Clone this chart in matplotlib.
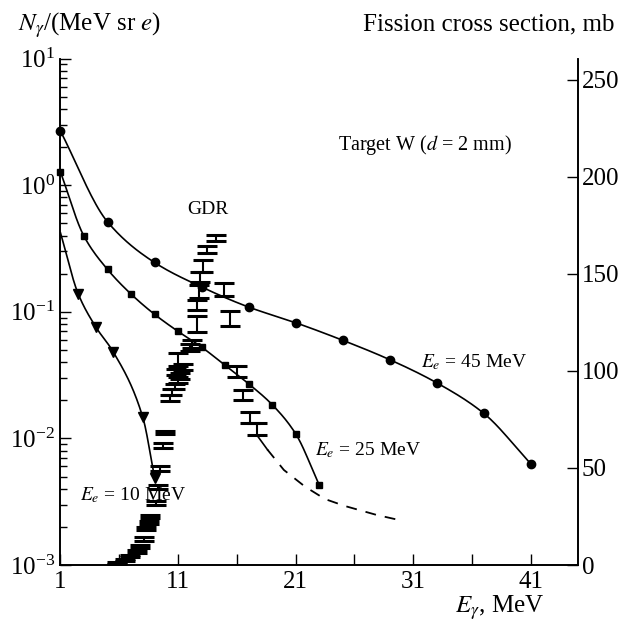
import numpy as np
import matplotlib
matplotlib.use("Agg")
import matplotlib.pyplot as plt
from matplotlib.ticker import FixedLocator, NullFormatter

plt.rcParams['font.family'] = ['Liberation Serif', 'DejaVu Serif']
plt.rcParams['mathtext.fontset'] = 'stix'

# --- DATA ---
# photon spectra, N_gamma / (MeV sr e), left log axis
e45_x = [1, 5, 9, 13, 17, 21, 25, 29, 33, 37, 41]
e45_y = [2.67, 0.513, 0.245, 0.157, 0.109, 0.082, 0.0596, 0.0419, 0.0275, 0.0158, 0.0063]

e25_x = [1, 3, 5, 7, 9, 11, 13, 15, 17, 19, 21, 23]
e25_y = [1.27, 0.395, 0.216, 0.138, 0.0955, 0.070, 0.0527, 0.0377, 0.027, 0.0185, 0.0109, 0.0043]

e10_x = [1, 2.5, 4, 5.5, 8, 9]
e10_y = [0.42, 0.139, 0.076, 0.048, 0.0147, 0.0049]

# fission cross section, mb, right axis
fis_e = [5.8, 6.5, 6.9, 7.5, 7.8, 8.1, 8.3, 8.5, 8.6, 9.1, 9.3, 9.5, 9.7, 9.9,
         10.3, 10.5, 10.7, 11.0, 11.2, 10.8, 11.4, 11.0, 12.0, 12.2, 12.6, 12.6,
         12.8, 12.9, 13.1, 13.5, 14.2, 14.9, 15.4, 16.0, 16.5, 17.1, 17.7]
fis_mb = [1.0, 2.6, 4.6, 6.9, 9.5, 13.4, 19.0, 21.8, 24.9, 32.0, 40.0, 49.5, 61.5, 68.5,
          86.0, 89.0, 92.0, 95.4, 97.4, 99.5, 102.0, 106.0, 112.0, 114.0, 124.2, 134.0,
          141.0, 148.6, 154.2, 162.6, 168.6, 142.1, 127.2, 99.8, 87.6, 76.0, 70.0]
fis_err = [0.5, 0.5, 0.5, 0.6, 0.6, 0.8, 0.8, 0.8, 0.8, 1.0, 1.0, 1.3, 1.3, 0.8,
           1.5, 1.5, 1.5, 1.5, 1.5, 1.5, 1.5, 3.5, 1.7, 2.1, 3.9, 2.6,
           3.5, 2.6, 3.0, 2.0, 1.6, 3.4, 3.9, 2.8, 2.6, 3.0, 3.0]

tail_e = [17.7, 18.6]
tail_mb = [67.0, 59.5]
extrap_e = [18.6, 20.0, 21.8, 23.5, 25.2, 27.9, 29.8]
extrap_mb = [59.5, 49.0, 40.4, 34.0, 30.4, 25.8, 23.2]


def smooth(x, y, logy=True, n=200):
    """Monotone cubic (Fritsch-Carlson) curve through the points, for drawing."""
    x = np.asarray(x, float)
    y = np.log10(y) if logy else np.asarray(y, float)
    h = np.diff(x)
    d = np.diff(y) / h
    m = np.zeros_like(y)
    m[0], m[-1] = d[0], d[-1]
    for i in range(1, len(y) - 1):
        if d[i - 1] * d[i] > 0:
            w1 = 2 * h[i] + h[i - 1]
            w2 = h[i] + 2 * h[i - 1]
            m[i] = (w1 + w2) / (w1 / d[i - 1] + w2 / d[i])
    xs = np.linspace(x[0], x[-1], n)
    k = np.clip(np.searchsorted(x, xs) - 1, 0, len(x) - 2)
    t = (xs - x[k]) / h[k]
    h00 = 2 * t**3 - 3 * t**2 + 1
    h10 = t**3 - 2 * t**2 + t
    h01 = -2 * t**3 + 3 * t**2
    h11 = t**3 - t**2
    ys = h00 * y[k] + h10 * h[k] * m[k] + h01 * y[k + 1] + h11 * h[k] * m[k + 1]
    return xs, (10**ys if logy else ys)


fig = plt.figure(figsize=(6.23, 6.22), dpi=100)
ax = fig.add_axes([0.0971, 0.0916, 0.8302, 0.8143])
ax2 = ax.twinx()

# --- photon spectra ---
for xs_, ys_, mk, ms in [(e45_x, e45_y, 'o', 6), (e25_x, e25_y, 's', 5)]:
    sx, sy = smooth(xs_, ys_)
    ax.plot(sx, sy, color='k', lw=1.2, zorder=3)
    ax.plot(xs_, ys_, ls='none', marker=mk, ms=ms, color='k', clip_on=False, zorder=4)
sx, sy = smooth(e10_x, e10_y)
ax.plot(sx, sy, color='k', lw=1.2, zorder=3)
ax.plot(e10_x[1:], e10_y[1:], ls='none', marker='v', ms=7.5, color='k', zorder=4)

ax.set_yscale('log')
ax.set_xlim(1, 45)
ax.set_ylim(1e-3, 1e1)
ax.set_xticks([1, 11, 21, 31, 41])
ax.xaxis.set_minor_locator(FixedLocator([6, 16, 26, 36]))
ax.tick_params(axis='both', which='major', direction='in', length=8, width=1,
               labelsize=18, pad=4)
ax.tick_params(axis='both', which='minor', direction='in', length=5, width=1)
ax.tick_params(axis='x', which='minor', length=8)
ax.tick_params(axis='y', which='both', right=False)
ax.yaxis.set_minor_formatter(NullFormatter())

# --- fission cross section ---
ax2.errorbar(fis_e, fis_mb, yerr=fis_err, fmt='none', ecolor='k', elinewidth=1.5,
             capsize=7, capthick=2.2, zorder=5)
ax2.plot(tail_e, tail_mb, color='k', lw=1.2)
ax2.plot(extrap_e, extrap_mb, color='k', lw=1.3, ls=(0, (6, 5)))
ax2.set_ylim(0, 261)
ax2.set_yticks([0, 50, 100, 150, 200, 250])
ax2.tick_params(axis='y', direction='in', length=8, width=1, labelsize=18, pad=3)

for a in (ax, ax2):
    a.spines['top'].set_visible(False)
    for s in ('left', 'right', 'bottom'):
        a.spines[s].set_linewidth(1.2)
ax2.set_zorder(ax.get_zorder() + 1)
ax2.patch.set_visible(False)

# --- text ---
fig.text(0.029, 0.96, r'$N_\gamma$/(MeV sr $e$)', fontsize=18, va='center', ha='left')
fig.text(0.987, 0.96, 'Fission cross section, mb', fontsize=18, va='center', ha='right')
fig.text(0.873, 0.0225, r'$E_\gamma$, MeV', fontsize=18, va='center', ha='right')
ax.text(0.537, 0.829, r'Target W ($d$ = 2 mm)', transform=ax.transAxes,
        fontsize=14.5, va='center', ha='left')
ax.text(0.285, 0.701, 'GDR', transform=ax.transAxes, fontsize=14, va='center', ha='center')
ax.text(0.697, 0.401, r'$E_e$ = 45 MeV', transform=ax.transAxes, fontsize=14, va='center')
ax.text(0.492, 0.227, r'$E_e$ = 25 MeV', transform=ax.transAxes, fontsize=14, va='center')
ax.text(0.038, 0.138, r'$E_e$ = 10 MeV', transform=ax.transAxes, fontsize=14, va='center')

fig.savefig('out.png', dpi=100)
